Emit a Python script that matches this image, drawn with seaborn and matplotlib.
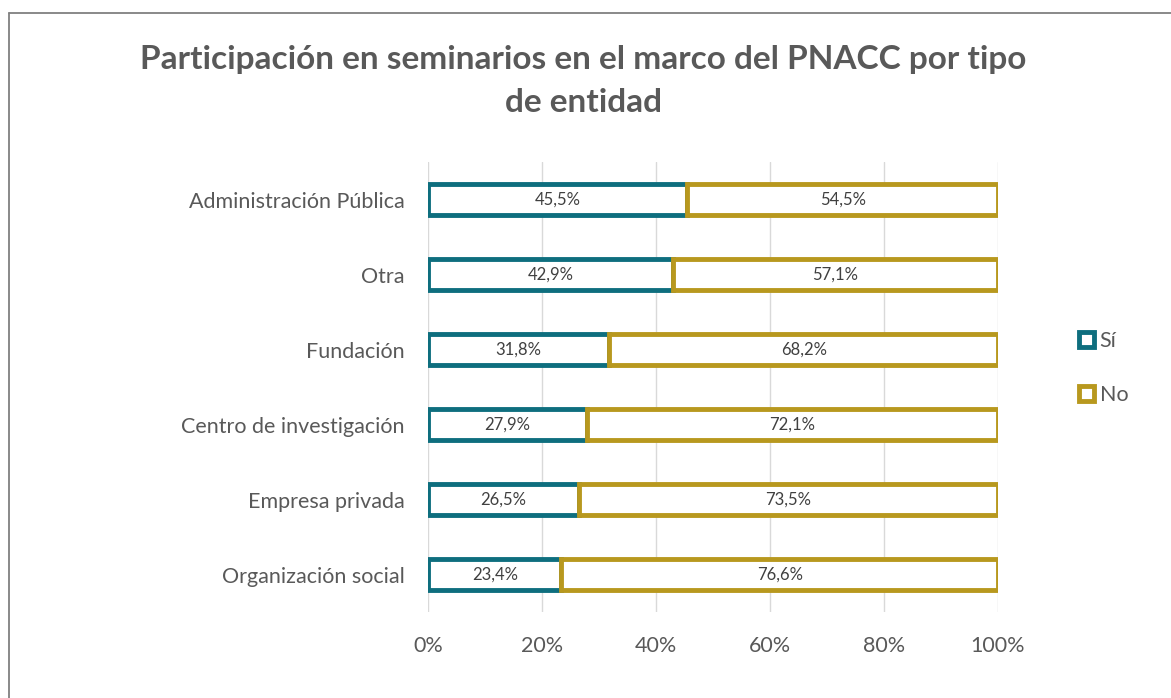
"""Participación en seminarios del PNACC por tipo de entidad"""
import matplotlib.pyplot as plt
from matplotlib.patches import Patch
from matplotlib.lines import Line2D
import seaborn as sns

entidades = ['Administración Pública', 'Otra', 'Fundación',
             'Centro de investigación', 'Empresa privada', 'Organización social']
si = [45.5, 42.9, 31.8, 27.9, 26.5, 23.4]
no = [54.5, 57.1, 68.2, 72.1, 73.5, 76.6]
series = ['Sí', 'No']

teal = '#0E6E7E'
gold = '#B8981E'
gray_text = '#595959'

sns.set_style('white')
plt.rcParams['font.family'] = ['Lato', 'DejaVu Sans']

fig = plt.figure(figsize=(11.71, 6.98), dpi=100)
ax = fig.add_axes([0.3655, 0.1232, 0.4868, 0.6447])

# Sí segment through seaborn, No segment stacked on top of it
sns.barplot(x=si, y=entidades, ax=ax, color='white', edgecolor=teal,
            linewidth=3.5, width=0.42, orient='h', zorder=3)
ax.barh(range(len(entidades)), no, left=si, height=0.42, color='white',
        edgecolor=gold, linewidth=3.5, zorder=4)

# data labels centred in each segment
for i in range(len(entidades)):
    ax.text(si[i]/2, i, f'{si[i]:.1f}%'.replace('.', ','), ha='center', va='center',
            fontsize=12, color='#404040', zorder=5)
    ax.text(si[i] + no[i]/2, i, f'{no[i]:.1f}%'.replace('.', ','), ha='center', va='center',
            fontsize=12, color='#404040', zorder=5)

ax.set_xlim(0, 100)
ax.set_ylim(5.5, -0.5)
ax.set_xticks(range(0, 101, 20))
ax.set_xticklabels([f'{v}%' for v in range(0, 101, 20)])
ax.grid(axis='x', color='#D9D9D9', linewidth=1, zorder=0)
ax.grid(axis='y', visible=False)
ax.set_axisbelow(True)
for s in ax.spines.values():
    s.set_visible(False)
ax.tick_params(axis='both', length=0, labelsize=15.5, colors=gray_text)
ax.tick_params(axis='y', pad=17)
ax.tick_params(axis='x', pad=17)
ax.set_xlabel('')
ax.set_ylabel('')

fig.text(0.498, 0.884, 'Participación en seminarios en el marco del PNACC por tipo\nde entidad',
         ha='center', va='center', fontsize=24, fontweight='bold', color=gray_text,
         linespacing=1.62)

handles = [Patch(facecolor='white', edgecolor=teal, linewidth=3.5),
           Patch(facecolor='white', edgecolor=gold, linewidth=3.5)]
fig.legend(handles, series, loc='center left', bbox_to_anchor=(0.905, 0.473),
           frameon=False, fontsize=15.5, labelcolor=gray_text, handlelength=0.7,
           handleheight=0.7, handletextpad=0.25, labelspacing=1.6)

# chart area border
fig.add_artist(Line2D([0.0075, 0.0075], [0, 0.982], transform=fig.transFigure,
                      color='#808080', linewidth=1.3))
fig.add_artist(Line2D([0.0075, 1.0], [0.982, 0.982], transform=fig.transFigure,
                      color='#808080', linewidth=1.3))

fig.savefig('out.png', dpi=100)
